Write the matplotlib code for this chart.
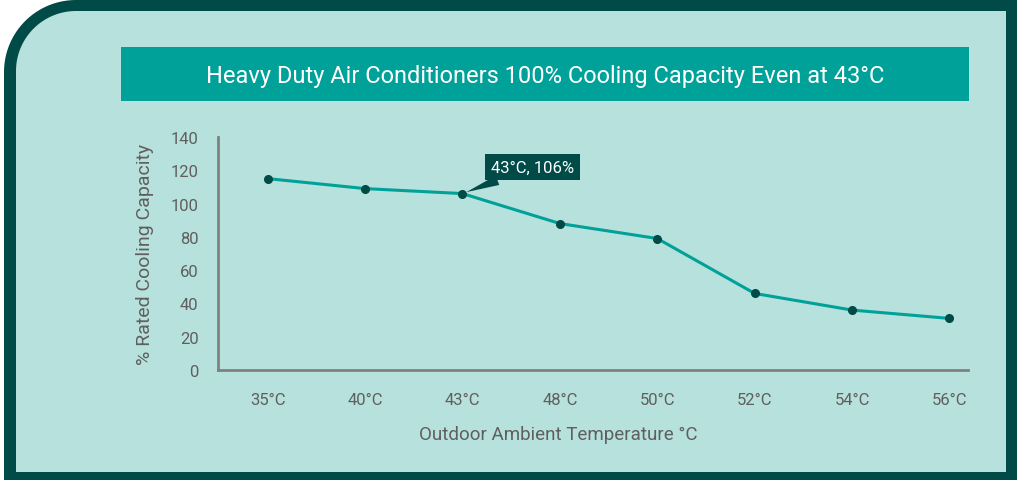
import matplotlib
matplotlib.use('Agg')
import matplotlib.pyplot as plt
import numpy as np
from matplotlib.path import Path
from matplotlib.patches import PathPatch, Rectangle

temps = ['35°C', '40°C', '43°C', '48°C', '50°C', '52°C', '54°C', '56°C']
capacity = [115, 109, 106, 88, 79, 46, 36, 31]
yticks = [0, 20, 40, 60, 80, 100, 120, 140]

dark = '#004a48'
teal = '#00a199'
fill = '#b7e1dc'
grey = '#5f5f5f'
fnt = ['Liberation Sans Narrow', 'Roboto', 'DejaVu Sans']
plt.rcParams['font.family'] = fnt

fig = plt.figure(figsize=(10.21, 4.81), dpi=100, facecolor='white')

# background frame, in pixel coords
bg = fig.add_axes([0, 0, 1, 1])
bg.set_xlim(0, 1021)
bg.set_ylim(481, 0)
bg.axis('off')

def corner_box(x0, y0, x1, y1, r):
    t = np.linspace(np.pi, 1.5 * np.pi, 30)
    arc = np.column_stack([x0 + r + r * np.cos(t), y0 + r + r * np.sin(t)])
    pts = np.vstack([[x0, y1], arc, [x1, y0], [x1, y1], [x0, y1]])
    codes = [Path.MOVETO] + [Path.LINETO] * (len(pts) - 2) + [Path.CLOSEPOLY]
    return Path(pts, codes)

bg.add_patch(PathPatch(corner_box(4, 1, 1017, 485, 72), fc=dark, ec='none'))
bg.add_patch(PathPatch(corner_box(16, 12, 1006, 473, 60), fc=fill, ec='none'))
bg.add_patch(Rectangle((121, 48), 848, 54, fc=teal, ec='none'))
bg.text(545, 76, 'Heavy Duty Air Conditioners 100% Cooling Capacity Even at 43°C',
        color='white', fontsize=17, ha='center', va='center')

# chart
ax = fig.add_axes([218 / 1021, 1 - 371 / 481, 750 / 1021, 233 / 481])
ax.patch.set_alpha(0)
x = np.arange(len(temps))
ax.plot(x, capacity, color=teal, lw=2.2, zorder=2)
ax.plot(x, capacity, 'o', color=dark, ms=5.5, zorder=3)
ax.set_xlim(-0.51, 7.19)
ax.set_ylim(0, 140)
ax.set_xticks(x)
ax.set_xticklabels(temps)
ax.set_yticks(yticks)
for s in ['top', 'right']:
    ax.spines[s].set_visible(False)
for s in ['left', 'bottom']:
    ax.spines[s].set_color('#808080')
    ax.spines[s].set_linewidth(2)
ax.tick_params(length=0, labelsize=12, colors=grey)
ax.tick_params(axis='x', pad=16)
ax.tick_params(axis='y', pad=14)
ax.set_xlabel('Outdoor Ambient Temperature °C', fontsize=13.5, color=grey)
ax.xaxis.set_label_coords(0.453, -0.235)
ax.set_ylabel('% Rated Cooling Capacity', fontsize=14, color=grey, labelpad=12)

i = temps.index('43°C')
ax.annotate('43°C, 106%', xy=(x[i], capacity[i]), xytext=(x[i] + 0.72, capacity[i] + 16),
            color='white', fontsize=12, ha='center', va='center',
            bbox=dict(boxstyle='square,pad=0.35', fc=dark, ec='none'),
            arrowprops=dict(arrowstyle='wedge,tail_width=0.6', fc=dark, ec='none',
                            shrinkA=0, shrinkB=3))

fig.savefig('out.png', dpi=100, facecolor='white')
